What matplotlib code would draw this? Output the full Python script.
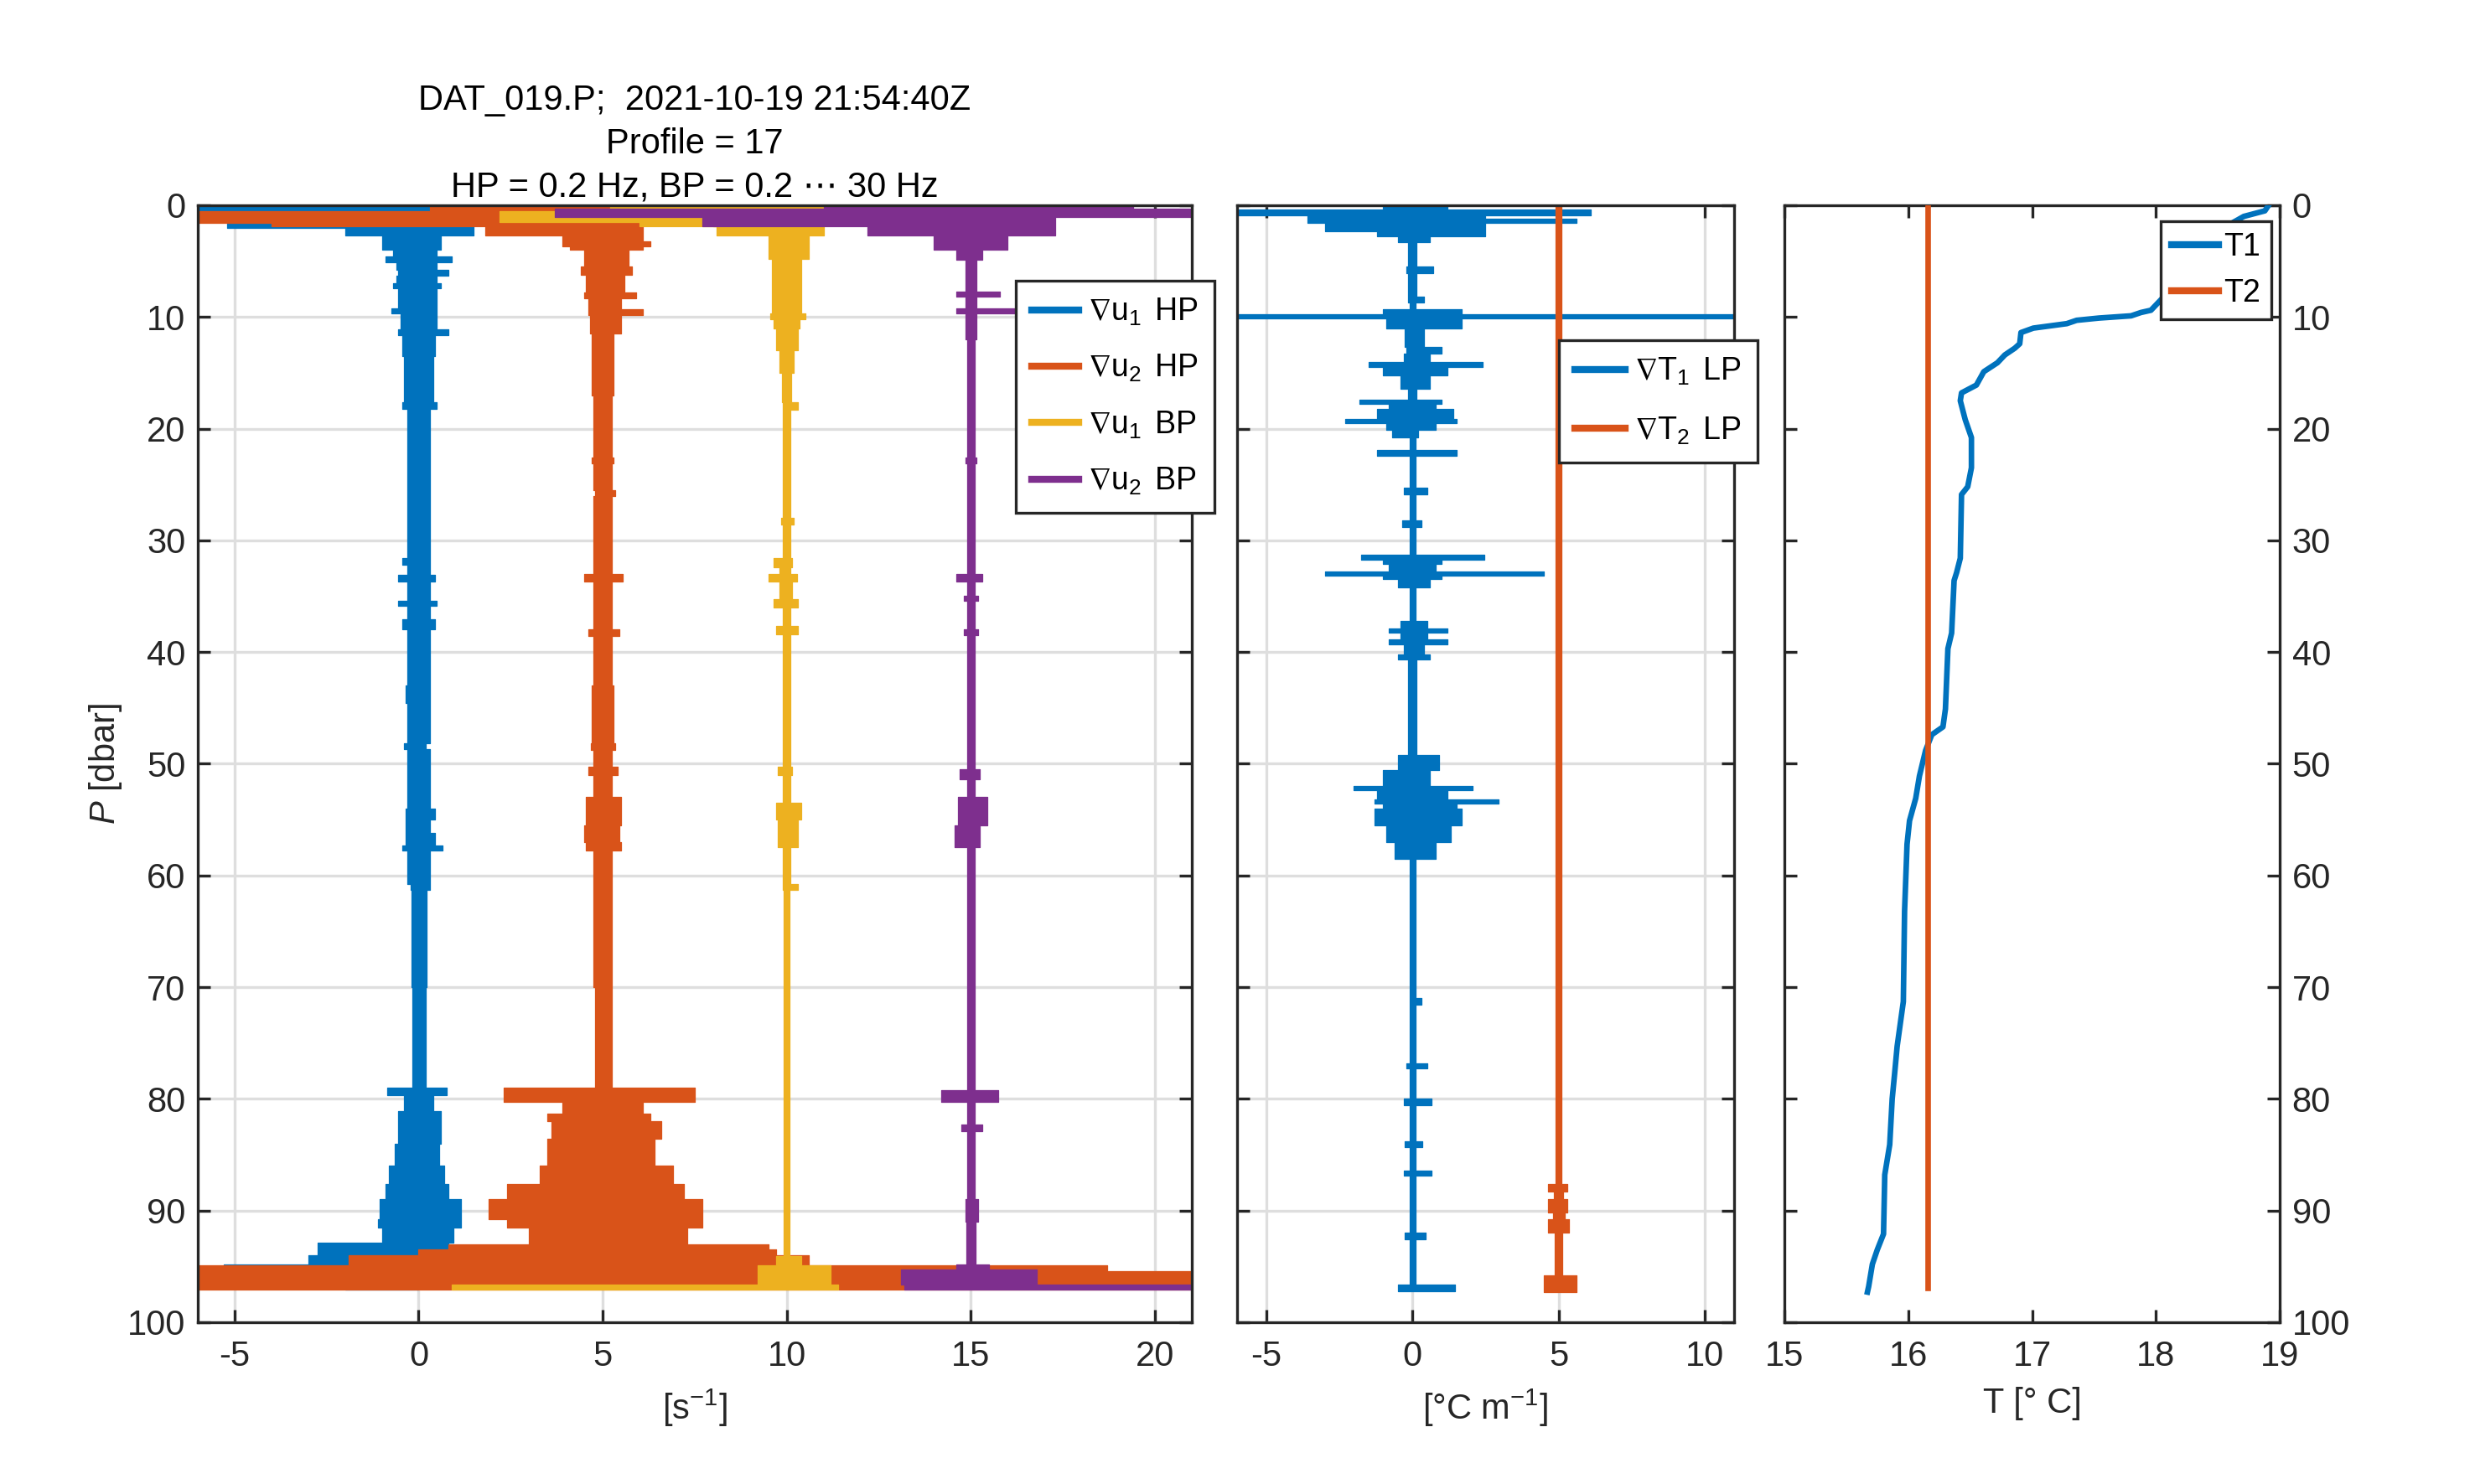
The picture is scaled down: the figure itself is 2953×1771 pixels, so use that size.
import numpy as np
import matplotlib
matplotlib.use("Agg")
import matplotlib.pyplot as plt
from matplotlib.lines import Line2D

plt.rcParams['font.family'] = ['Liberation Sans', 'DejaVu Sans']
plt.rcParams['mathtext.fontset'] = 'custom'
plt.rcParams['mathtext.rm'] = 'Liberation Sans'
plt.rcParams['mathtext.it'] = 'Liberation Sans:italic'
plt.rcParams['mathtext.bf'] = 'Liberation Sans:bold'
plt.rcParams['mathtext.fallback'] = 'stixsans'
plt.rcParams['axes.unicode_minus'] = False

# ---------------- data (envelopes) ----------------
# shear probes: pressure breakpoints [dbar], lower / upper envelope [s^-1] (relative to offset)
u_offsets = [0, 5, 10, 15]
u_labels = [r'$\nabla\mathrm{u}_1\,$ HP', r'$\nabla\mathrm{u}_2\,$ HP',
            r'$\nabla\mathrm{u}_1\,$ BP', r'$\nabla\mathrm{u}_2\,$ BP']

u1hp_p = [0, 0.6, 1.5, 2.0, 2.7, 4.0, 4.6, 5.1, 5.8, 6.3, 7.0, 7.4, 9.2, 9.7, 11.1, 11.6, 13.5, 17.6, 18.2,
          31.6, 32.2, 33.1, 33.7, 35.4, 35.9, 37.1, 38.0, 43.0, 44.6, 48.2, 48.7, 54.0, 55.0, 56.2, 57.3, 57.8,
          60.8, 61.3, 70.0, 79.0, 79.7, 81.1, 84.0, 86.0, 87.6, 89.0, 90.8, 91.5, 92.9, 94.0, 94.8, 95.6, 97.1]
u1hp_lo = [-6, -6, -5.2, -2.0, -1.0, -0.7, -0.9, -0.6, -0.55, -0.6, -0.7, -0.55, -0.75, -0.5, -0.55, -0.45, -0.4,
           -0.45, -0.3, -0.45, -0.3, -0.55, -0.3, -0.55, -0.3, -0.45, -0.3, -0.35, -0.3, -0.4, -0.3, -0.35, -0.35,
           -0.35, -0.45, -0.3, -0.22, -0.2, -0.18, -0.85, -0.4, -0.55, -0.65, -0.8, -0.9, -1.05, -1.1, -1.0, -2.75,
           -3.0, -5.3, -2.0, -2.0]
u1hp_hi = [3.0, 1.0, 1.5, 1.5, 0.6, 0.5, 0.9, 0.5, 0.8, 0.5, 0.6, 0.5, 0.5, 0.5, 0.8, 0.45, 0.4, 0.5, 0.3,
           0.3, 0.3, 0.45, 0.3, 0.5, 0.3, 0.45, 0.3, 0.3, 0.3, 0.2, 0.3, 0.45, 0.3, 0.45, 0.65, 0.3, 0.3, 0.22,
           0.2, 0.77, 0.4, 0.6, 0.55, 0.7, 0.8, 1.15, 1.15, 0.95, 0.8, 0.5, 0.0, 0.0, 0.0]

u2hp_p = [0, 0.5, 1.6, 1.9, 2.7, 3.2, 3.7, 4.0, 5.5, 6.2, 7.8, 8.3, 9.3, 9.8, 11.5, 17.0, 22.6, 23.1, 25.5, 26.0,
          33.0, 33.7, 38.0, 38.6, 43.0, 48.2, 48.8, 50.3, 51.0, 53.0, 55.5, 57.0, 57.8, 70.0, 79.0, 80.3, 81.3,
          82.0, 83.6, 86.0, 87.6, 89.0, 90.8, 91.5, 93.0, 93.5, 94.0, 94.9, 95.4, 97.1]
u2hp_lo = [-4.7, -11, -9, -3.2, -1.1, -1.1, -0.9, -0.5, -0.6, -0.45, -0.5, -0.4, -0.4, -0.35, -0.3, -0.25, -0.3,
           -0.25, -0.2, -0.25, -0.5, -0.25, -0.4, -0.25, -0.3, -0.33, -0.25, -0.38, -0.25, -0.45, -0.5, -0.45,
           -0.25, -0.2, -2.7, -1.1, -1.5, -1.4, -1.5, -1.7, -2.6, -3.1, -2.6, -2.0, -4.2, -5.0, -6.9, -11, -11, -11]
u2hp_hi = [0.2, -1.2, 1.1, 1.1, 1.1, 1.3, 1.1, 0.7, 0.8, 0.6, 0.9, 0.5, 1.1, 0.5, 0.3, 0.25, 0.3, 0.25, 0.35,
           0.25, 0.55, 0.25, 0.45, 0.25, 0.3, 0.33, 0.25, 0.4, 0.25, 0.5, 0.45, 0.5, 0.25, 0.25, 2.5, 1.1, 1.3,
           1.6, 1.4, 1.9, 2.2, 2.7, 2.7, 2.3, 4.5, 4.7, 5.6, 13.7, 16, 16]

u1bp_p = [0, 0.5, 1.5, 1.9, 2.7, 4.8, 9.7, 10.2, 11.0, 13.0, 15.0, 17.6, 18.3, 28.0, 28.6, 31.6, 32.4, 33.0,
          33.7, 35.3, 36.0, 37.7, 38.4, 50.3, 51.0, 53.5, 55.0, 57.5, 60.8, 61.3, 94.1, 94.9, 96.6, 97.1]
u1bp_lo = [-4.8, -7.8, -4, -1.9, -0.5, -0.4, -0.45, -0.35, -0.3, -0.2, -0.12, -0.1, -0.1, -0.15, -0.1, -0.35,
           -0.2, -0.5, -0.2, -0.35, -0.1, -0.3, -0.1, -0.25, -0.1, -0.3, -0.25, -0.1, -0.1, -0.08, -0.3, -0.8,
           -9.1, -9.1]
u1bp_hi = [1.0, -2.0, -2.0, 1.0, 0.6, 0.4, 0.5, 0.35, 0.3, 0.2, 0.12, 0.3, 0.1, 0.2, 0.1, 0.15, 0.1, 0.27,
           0.15, 0.3, 0.1, 0.3, 0.1, 0.15, 0.1, 0.4, 0.3, 0.1, 0.3, 0.08, 0.4, 1.2, 1.4, 1.4]

u2bp_p = [0, 0.3, 1.05, 1.9, 2.7, 4.0, 4.9, 7.7, 8.2, 9.2, 9.7, 12.0, 22.6, 23.1, 33.0, 33.7, 35.0, 35.4, 38.0,
          38.5, 50.5, 51.4, 53.0, 55.5, 57.5, 79.2, 80.3, 82.3, 82.9, 89.0, 91.0, 94.8, 95.3, 96.6, 97.1]
u2bp_lo = [-4, -11.3, -7.3, -2.8, -1.0, -0.4, -0.15, -0.4, -0.15, -0.4, -0.15, -0.1, -0.15, -0.1, -0.4, -0.1,
           -0.2, -0.1, -0.2, -0.1, -0.3, -0.1, -0.35, -0.45, -0.1, -0.8, -0.1, -0.25, -0.1, -0.15, -0.12, -0.4,
           -1.9, -1.8, -1.8]
u2bp_hi = [4.4, 6.0, 2.3, 2.3, 1.0, 0.3, 0.15, 0.8, 0.15, 1.2, 0.15, 0.1, 0.15, 0.1, 0.3, 0.1, 0.2, 0.1, 0.2,
           0.1, 0.25, 0.1, 0.45, 0.25, 0.1, 0.75, 0.1, 0.3, 0.1, 0.2, 0.12, 0.5, 1.8, 6.0, 6.0]

# thermistor gradients [degC m^-1]
t_offsets = [0, 5]
t_labels = [r'$\nabla\mathrm{T}_1\,$ LP', r'$\nabla\mathrm{T}_2\,$ LP']
gT1_p = [0, 0.4, 0.9, 1.2, 1.6, 2.3, 2.8, 3.3, 5.5, 6.1, 8.2, 8.7, 9.3, 9.75, 10.1, 11.0, 12.7, 13.3, 14.0,
         14.5, 15.2, 16.4, 17.4, 17.8, 18.2, 19.1, 19.5, 20.1, 20.8, 21.9, 22.4, 25.3, 25.9, 28.2, 28.8, 31.3,
         31.7, 32.1, 32.8, 33.2, 33.5, 34.2, 37.2, 37.9, 38.3, 38.9, 39.3, 40.2, 40.7, 49.2, 50.6, 52.0, 52.4,
         53.2, 53.6, 54.0, 55.5, 57.0, 58.5, 71.0, 71.6, 76.8, 77.3, 80.0, 80.6, 83.8, 84.3, 86.4, 86.9, 92.0,
         92.6, 96.6, 97.2]
gT1_lo = [-1.0, -6, -3.6, -3.6, -3.0, -1.2, -0.5, -0.15, -0.2, -0.15, -0.15, -0.1, -1.0, -6, -0.9, -0.25,
          -0.2, -0.3, -1.5, -1.0, -0.4, -0.15, -1.8, -0.8, -1.2, -2.3, -0.9, -0.7, -0.1, -1.2, -0.1, -0.3,
          -0.1, -0.35, -0.1, -1.75, -1.0, -0.8, -3.0, -1.0, -0.5, -0.1, -0.4, -0.8, -0.4, -0.8, -0.3, -0.5,
          -0.15, -0.5, -1.0, -2.0, -1.2, -1.3, -1.0, -1.3, -0.9, -0.6, -0.1, -0.1, -0.1, -0.2, -0.1, -0.3, -0.1,
          -0.25, -0.1, -0.3, -0.1, -0.25, -0.1, -0.5, -0.5]
gT1_hi = [1.2, 6.1, 2.5, 5.6, 2.5, 2.5, 0.6, 0.15, 0.7, 0.15, 0.4, 0.1, 1.7, 11, 1.7, 0.4, 1.0, 0.6, 2.4,
          1.2, 0.6, 0.15, 1.0, 0.8, 1.4, 1.5, 0.8, 0.2, 0.1, 1.5, 0.1, 0.5, 0.1, 0.3, 0.1, 2.45, 1.0, 0.8,
          4.5, 1.0, 0.6, 0.1, 0.5, 1.2, 0.5, 1.2, 0.4, 0.6, 0.15, 0.9, 0.6, 2.05, 1.2, 2.95, 1.5, 1.7, 1.3,
          0.8, 0.1, 0.3, 0.1, 0.5, 0.1, 0.65, 0.1, 0.35, 0.1, 0.65, 0.1, 0.45, 0.1, 1.45, 1.45]

gT2_p = [0, 87.6, 88.3, 89.0, 90.2, 90.8, 92.0, 95.8, 97.3]
gT2_lo = [-0.1, -0.35, -0.15, -0.35, -0.2, -0.35, -0.12, -0.5, -0.5]
gT2_hi = [0.1, 0.3, 0.15, 0.3, 0.2, 0.35, 0.12, 0.6, 0.6]

# temperature profiles
T1_p = [0, 0.5, 1.0, 2.0, 4.0, 6.0, 8.0, 9.4, 9.6, 9.9, 10.1, 10.3, 10.6, 11.0, 11.4, 12.4, 12.8, 13.4, 14.1,
        14.9, 16.1, 16.8, 17.5, 19.2, 20.8, 23.5, 25.2, 25.9, 31.6, 32.9, 33.6, 38.3, 39.7, 45.1, 46.7, 47.4,
        48.8, 51.1, 53.1, 55.1, 57.2, 63.2, 71.3, 75.3, 77.7, 80.0, 84.1, 86.8, 92.1, 93.5, 94.8, 96.8, 97.3]
T1_T = [18.91, 18.88, 18.71, 18.55, 18.35, 18.2, 18.08, 17.96, 17.88, 17.80, 17.54, 17.36, 17.28, 17.01, 16.91,
        16.90, 16.86, 16.78, 16.72, 16.61, 16.55, 16.43, 16.42, 16.46, 16.51, 16.51, 16.48, 16.43, 16.42, 16.39,
        16.37, 16.35, 16.32, 16.30, 16.28, 16.19, 16.14, 16.09, 16.06, 16.01, 15.99, 15.97, 15.96, 15.91, 15.89,
        15.87, 15.85, 15.81, 15.80, 15.75, 15.71, 15.68, 15.67]
T2_p = [0.0, 96.9]
T2_T = [16.16, 16.16]

title_lines = ['DAT_019.P;  2021-10-19 21:54:40Z', 'Profile = 17', 'HP = 0.2 Hz, BP = 0.2 \u22ef 30 Hz']

# ---------------- style ----------------
C = ['#0072BD', '#D95319', '#EDB120', '#7E2F8E']
AX = '#262626'
GRID = '#dedede'

fig = plt.figure(figsize=(2953 / 300, 1771 / 300), dpi=300)
bottom, height = 0.1090, 0.7527
ax1 = fig.add_axes([0.0799, bottom, 0.4016, height])
ax2 = fig.add_axes([0.4998, bottom, 0.2008, height])
ax3 = fig.add_axes([0.7210, bottom, 0.2001, height])


def env(ax, p, lo, hi, off, color):
    p = np.asarray(p, float)
    lo = np.asarray(lo, float) + off
    hi = np.asarray(hi, float) + off
    assert len(p) == len(lo) == len(hi)
    ax.fill_betweenx(p, lo, hi, step='post', color=color, lw=0.3, edgecolor=color, zorder=2)


for ax in (ax1, ax2, ax3):
    for s in ax.spines.values():
        s.set_color(AX)
        s.set_linewidth(0.8)
    ax.tick_params(direction='in', length=3.6, width=0.8, color=AX, labelcolor=AX,
                   labelsize=10, top=True, right=True)
    ax.tick_params(axis='x', pad=5)
    ax.set_ylim(100, 0)
    ax.set_yticks(np.arange(0, 101, 10))
    ax.set_axisbelow(True)

series_u = [(u1hp_p, u1hp_lo, u1hp_hi), (u2hp_p, u2hp_lo, u2hp_hi),
            (u1bp_p, u1bp_lo, u1bp_hi), (u2bp_p, u2bp_lo, u2bp_hi)]
for (p, lo, hi), off, c in zip(series_u, u_offsets, C):
    env(ax1, p, lo, hi, off, c)
ax1.set_xlim(-6, 21)
ax1.set_xticks([-5, 0, 5, 10, 15, 20])
ax1.grid(True, color=GRID, lw=0.8)
ax1.set_xlabel(r'[s$^{-1}$]', fontsize=10, color=AX)
ax1.set_ylabel(r'$P$ [dbar]', fontsize=10, color=AX, labelpad=1.0)
ax1.set_title('\n'.join(title_lines), fontsize=10, color='black', pad=2.5, linespacing=1.38)

series_t = [(gT1_p, gT1_lo, gT1_hi), (gT2_p, gT2_lo, gT2_hi)]
for (p, lo, hi), off, c in zip(series_t, t_offsets, C):
    env(ax2, p, lo, hi, off, c)
ax2.set_xlim(-6, 11)
ax2.set_xticks([-5, 0, 5, 10])
ax2.grid(True, color=GRID, lw=0.8)
ax2.tick_params(labelleft=False)
ax2.set_xlabel(r'[°C m$^{-1}$]', fontsize=10, color=AX)

ax3.plot(T1_T, T1_p, color=C[0], lw=1.6, zorder=3)
ax3.plot(T2_T, T2_p, color=C[1], lw=1.6, zorder=3)
ax3.set_xlim(15, 19)
ax3.set_xticks([15, 16, 17, 18, 19])
ax3.tick_params(axis='y', labelleft=False, labelright=True)
ax3.set_xlabel('T [° C]', fontsize=10, color=AX)

legkw = dict(loc='upper left', bbox_transform=fig.transFigure, borderaxespad=0, fontsize=9,
             fancybox=False, framealpha=1, edgecolor=AX)
h_u = [Line2D([], [], color=c, lw=2) for c in C]
L1 = fig.legend(h_u, u_labels, bbox_to_anchor=(0.4104, 0.8108), handlelength=1.5, labelspacing=0.8,
                handletextpad=0.3, borderpad=0.5, **legkw)
h_t = [Line2D([], [], color=c, lw=2) for c in C[:2]]
L2 = fig.legend(h_t, t_labels, bbox_to_anchor=(0.6300, 0.7705), handlelength=1.6, labelspacing=0.88,
                handletextpad=0.3, borderpad=0.5, **legkw)
L3 = fig.legend([Line2D([], [], color=C[0], lw=2), Line2D([], [], color=C[1], lw=2)], ['T1', 'T2'],
                bbox_to_anchor=(0.8730, 0.8510), handlelength=1.5, labelspacing=0.5,
                handletextpad=0.15, borderpad=0.35, **legkw)
for L in (L1, L2, L3):
    L.get_frame().set_linewidth(0.8)

fig.savefig('out.png', dpi=300)
